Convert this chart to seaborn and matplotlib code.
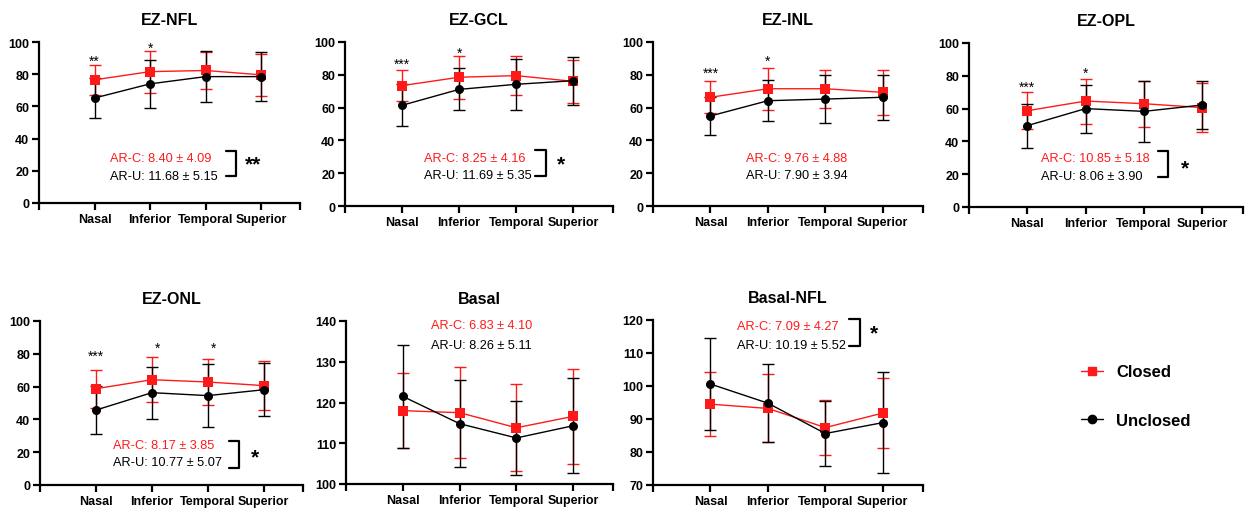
import numpy as np
import pandas as pd
import matplotlib

matplotlib.use('Agg')

import matplotlib.pyplot as plt
import seaborn as sns
from matplotlib.lines import Line2D

sns.set_style("ticks")
plt.rcParams['font.family'] = ['Liberation Sans', 'DejaVu Sans']
for k in ['text.color', 'axes.labelcolor', 'xtick.color', 'ytick.color', 'axes.edgecolor']:
    plt.rcParams[k] = 'black'

regions = ["Nasal", "Inferior", "Temporal", "Superior"]
panels = ["EZ-NFL", "EZ-GCL", "EZ-INL", "EZ-OPL", "EZ-ONL", "Basal", "Basal-NFL"]

closed_mean = {
    "EZ-NFL": [76.5, 81.6, 82.3, 79.6],
    "EZ-GCL": [73.4, 78.5, 79.5, 76.0],
    "EZ-INL": [66.3, 71.5, 71.5, 69.3],
    "EZ-OPL": [58.7, 64.6, 63.0, 60.6],
    "EZ-ONL": [58.7, 64.2, 62.8, 60.6],
    "Basal": [118.0, 117.5, 113.8, 116.6],
    "Basal-NFL": [94.5, 93.2, 87.4, 91.8],
}
closed_sd = {
    "EZ-NFL": [9.5, 13.0, 11.6, 13.0],
    "EZ-GCL": [9.6, 13.0, 11.7, 13.0],
    "EZ-INL": [9.8, 12.8, 11.6, 13.7],
    "EZ-OPL": [11.4, 13.7, 14.0, 14.8],
    "EZ-ONL": [11.5, 13.7, 14.0, 15.0],
    "Basal": [9.2, 11.2, 10.7, 11.7],
    "Basal-NFL": [9.6, 10.3, 8.3, 10.5],
}
unclosed_mean = {
    "EZ-NFL": [65.2, 74.0, 78.5, 78.5],
    "EZ-GCL": [61.4, 71.1, 74.2, 76.4],
    "EZ-INL": [54.9, 64.2, 65.2, 66.3],
    "EZ-OPL": [49.6, 60.0, 58.3, 62.2],
    "EZ-ONL": [45.7, 56.3, 54.5, 58.1],
    "Basal": [121.5, 114.8, 111.3, 114.3],
    "Basal-NFL": [100.6, 94.8, 85.6, 88.9],
}
unclosed_sd = {
    "EZ-NFL": [12.7, 14.8, 15.6, 15.0],
    "EZ-GCL": [12.8, 12.8, 15.4, 14.7],
    "EZ-INL": [11.6, 12.4, 14.6, 13.7],
    "EZ-OPL": [13.4, 14.6, 18.6, 14.7],
    "EZ-ONL": [14.4, 15.9, 19.1, 16.0],
    "Basal": [12.7, 10.7, 9.0, 11.7],
    "Basal-NFL": [13.9, 11.8, 9.9, 15.2],
}
point_stars = {
    "EZ-NFL": ["**", "*", "", ""],
    "EZ-GCL": ["***", "*", "", ""],
    "EZ-INL": ["***", "*", "", ""],
    "EZ-OPL": ["***", "*", "", ""],
    "EZ-ONL": ["***", "*", "*", ""],
}
ar_c = {
    "EZ-NFL": "AR-C: 8.40 ± 4.09", "EZ-GCL": "AR-C: 8.25 ± 4.16",
    "EZ-INL": "AR-C: 9.76 ± 4.88", "EZ-OPL": "AR-C: 10.85 ± 5.18",
    "EZ-ONL": "AR-C: 8.17 ± 3.85", "Basal": "AR-C: 6.83 ± 4.10",
    "Basal-NFL": "AR-C: 7.09 ± 4.27",
}
ar_u = {
    "EZ-NFL": "AR-U: 11.68 ± 5.15", "EZ-GCL": "AR-U: 11.69 ± 5.35",
    "EZ-INL": "AR-U: 7.90 ± 3.94", "EZ-OPL": "AR-U: 8.06 ± 3.90",
    "EZ-ONL": "AR-U: 10.77 ± 5.07", "Basal": "AR-U: 8.26 ± 5.11",
    "Basal-NFL": "AR-U: 10.19 ± 5.52",
}
ar_sig = {"EZ-NFL": "**", "EZ-GCL": "*", "EZ-OPL": "*", "EZ-ONL": "*", "Basal-NFL": "*"}

# layout (pixels: left, right, top, bottom), y range, annotation placement
axes_px = {
    "EZ-NFL": (39, 300, 43, 204), "EZ-GCL": (345, 613, 43, 207),
    "EZ-INL": (653, 923, 43, 207), "EZ-OPL": (969, 1243, 44, 208),
    "EZ-ONL": (40, 303, 322, 486), "Basal": (346, 613, 322, 485),
    "Basal-NFL": (653, 923, 321, 486),
}
ylims = {"Basal": (100, 140, 10), "Basal-NFL": (70, 120, 10)}
# text x, ha, y red, y black, bracket x, top, bottom, sig x, sig y
ann = {
    "EZ-NFL": (0.27, "left", 27.7, 16.7, 2.55, 32.3, 16.7, 2.86, 24.0),
    "EZ-GCL": (0.38, "left", 29.5, 18.7, 2.52, 34.0, 18.0, 2.78, 25.5),
    "EZ-INL": (1.5, "center", 29.5, 18.7, None, None, None, None, None),
    "EZ-OPL": (0.24, "left", 29.7, 18.7, 2.42, 34.3, 18.5, 2.70, 24.0),
    "EZ-ONL": (0.31, "left", 24.4, 13.8, 2.56, 26.8, 10.4, 2.85, 17.0),
    "Basal": (0.5, "left", 138.9, 134.0, None, None, None, None, None),
    "Basal-NFL": (0.46, "left", 118.2, 112.5, 2.60, 120.4, 112.1, 2.84, 116.0),
}
star_y = {
    "EZ-NFL": [88.5, 96.5], "EZ-GCL": [87, 93.5], "EZ-INL": [81, 88.5],
    "EZ-OPL": [73.5, 82], "EZ-ONL": [79, 83.5, 83.5],
}

RED = "#ff1a1a"
BLACK = "#000000"
W, H = 1250, 510

fig = plt.figure(figsize=(12.5, 5.1), dpi=100)

for name in panels:
    l, r, t, b = axes_px[name]
    ax = fig.add_axes([l / W, 1 - b / H, (r - l) / W, (b - t) / H])
    x = np.arange(len(regions))
    df = pd.DataFrame({
        "pos": np.concatenate([x, x]),
        "value": closed_mean[name] + unclosed_mean[name],
        "group": ["Closed"] * 4 + ["Unclosed"] * 4,
    })
    for grp, mean, sd, col, mk in [("Closed", closed_mean, closed_sd, RED, "s"),
                                   ("Unclosed", unclosed_mean, unclosed_sd, BLACK, "o")]:
        ax.errorbar(x, mean[name], yerr=sd[name], fmt="none", ecolor=col,
                    elinewidth=1.0, capsize=4, capthick=1.0, zorder=2)
        sns.lineplot(data=df[df["group"] == grp], x="pos", y="value", color=col,
                     marker=mk, markersize=6.5, markeredgewidth=0, linewidth=1.0,
                     ax=ax, zorder=3, legend=False)

    lo, hi, step = ylims.get(name, (0, 100, 20))
    ax.set_ylim(lo, hi)
    ax.set_yticks(np.arange(lo, hi + 1, step))
    ax.set_xlim(-1, 3.7)
    ax.set_xticks([-1, 0, 1, 2, 3, 3.7])
    ax.set_xticklabels([""] + regions + [""])
    ax.set_xlabel("")
    ax.set_ylabel("")
    for s in ["top", "right"]:
        ax.spines[s].set_visible(False)
    for s in ["left", "bottom"]:
        ax.spines[s].set_linewidth(1.6)
    ax.tick_params(axis="both", width=1.6, length=5, labelsize=9, pad=2)
    for lab in ax.get_xticklabels() + ax.get_yticklabels():
        lab.set_fontweight("bold")
    ax.set_title(name, fontsize=11.5, fontweight="bold", pad=13)

    tx, ha, yr, yb, bx, bt, bb, sx, sy = ann[name]
    ax.text(tx, yr, ar_c[name], color=RED, fontsize=9.2, ha=ha, va="center")
    ax.text(tx, yb, ar_u[name], color=BLACK, fontsize=9.2, ha=ha, va="center")
    if bx is not None:
        ax.plot([bx - 0.18, bx, bx, bx - 0.18], [bt, bt, bb, bb], color=BLACK,
                linewidth=1.6, clip_on=False)
        ax.text(sx, sy, ar_sig[name], fontsize=15, fontweight="bold", ha="center", va="center")

    if name in point_stars:
        ys = star_y[name]
        for i, st in enumerate(point_stars[name]):
            if st:
                ax.text(x[i] + (0.1 if name == "EZ-ONL" and i > 0 else 0), ys[i], st,
                        fontsize=10, ha="center", va="center", clip_on=False)

handles = [
    Line2D([0], [0], color=RED, marker="s", markersize=6, linewidth=1.0),
    Line2D([0], [0], color=BLACK, marker="o", markersize=6, linewidth=1.0),
]
fig.legend(handles, ["Closed", "Unclosed"], loc="center left",
           bbox_to_anchor=(1066 / W, 1 - 397 / H), frameon=False,
           prop={"weight": "bold", "size": 12}, labelspacing=2.0,
           handlelength=1.3, handletextpad=0.8)

plt.savefig("out.png", dpi=100)
